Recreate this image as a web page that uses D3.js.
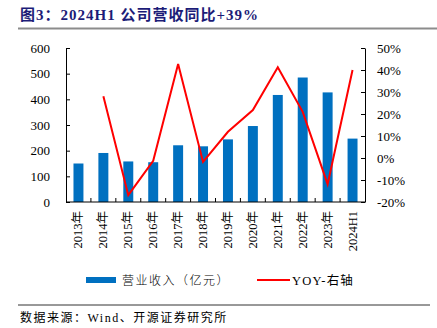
<!DOCTYPE html>
<html>
<head>
<meta charset="utf-8">
<script src="https://cdn.jsdelivr.net/npm/d3@7"></script>
<style>
  body { margin: 0; background: #fff; }
  svg { display: block; }
  text { font-family: "Liberation Serif", "Times New Roman", "Noto Sans CJK SC", serif; }
</style>
</head>
<body>
<svg id="chart"></svg>
<script>
// Data
const categories = ['2013年', '2014年', '2015年', '2016年', '2017年', '2018年',
  '2019年', '2020年', '2021年', '2022年', '2023年', '2024H1'];
const revenue = [150, 191, 158, 155, 221, 217, 244, 296, 417, 485, 427, 247];
const yoy = [null, 28.1, -16.9, -1.3, 42.7, -1.8, 11.9, 21.8, 41.2, 21.0, -11.9, 40.0];
const leftTicks = [0, 100, 200, 300, 400, 500, 600];
const rightTicks = [-20, -10, 0, 10, 20, 30, 40, 50];

const width = 437, height = 328;
const margin = { top: 48, right: 72, bottom: 126, left: 66 };

const svg = d3.select('#chart').attr('width', width).attr('height', height);

// Title
svg.append('text')
  .attr('x', 20).attr('y', 20)
  .attr('font-size', 15).attr('font-weight', 'bold')
  .attr('letter-spacing', 1)
  .attr('fill', '#1c1c78')
  .text('图3：2024H1 公司营收同比+39%');
svg.append('line')
  .attr('x1', 18).attr('x2', 437).attr('y1', 28.5).attr('y2', 28.5)
  .attr('stroke', '#8c8c8c').attr('stroke-width', 2);

const x = d3.scaleBand()
  .domain(categories)
  .range([margin.left, width - margin.right])
  .paddingInner(0.6).paddingOuter(0.3);

const yL = d3.scaleLinear().domain([0, 600]).range([height - margin.bottom, margin.top]);
const yR = d3.scaleLinear().domain([-20, 50]).range([height - margin.bottom, margin.top]);

// Bars
svg.append('g').selectAll('rect')
  .data(revenue)
  .enter().append('rect')
  .attr('x', (d, i) => x(categories[i]))
  .attr('y', d => yL(d))
  .attr('width', x.bandwidth())
  .attr('height', d => yL(0) - yL(d))
  .attr('fill', '#0070c0');

// YOY line
const line = d3.line()
  .defined(d => d !== null)
  .x((d, i) => x(categories[i]) + x.bandwidth() / 2)
  .y(d => yR(d));
svg.append('path')
  .datum(yoy)
  .attr('d', line)
  .attr('fill', 'none')
  .attr('stroke', '#ff0000')
  .attr('stroke-width', 2);

// Axes
const axisStyle = g => {
  g.select('.domain').attr('stroke', '#000');
  g.selectAll('.tick line').attr('stroke', '#000');
  g.selectAll('.tick text').attr('fill', '#000').attr('font-size', 13)
    .attr('font-family', '"Liberation Serif", "Times New Roman", serif');
};

svg.append('g')
  .attr('transform', `translate(${margin.left},0)`)
  .call(d3.axisLeft(yL).tickValues(leftTicks).tickSizeInner(-4).tickSizeOuter(0).tickPadding(16))
  .call(axisStyle);

svg.append('g')
  .attr('transform', `translate(${width - margin.right},0)`)
  .call(d3.axisRight(yR).tickValues(rightTicks).tickFormat(d => d + '%')
    .tickSizeInner(-4).tickSizeOuter(0).tickPadding(12))
  .call(axisStyle);

// Category axis: ticks between bands pointing up
const xAxisG = svg.append('g')
  .attr('transform', `translate(0,${height - margin.bottom})`);
xAxisG.append('line')
  .attr('x1', margin.left).attr('x2', width - margin.right)
  .attr('stroke', '#000');
const bounds = d3.range(1, categories.length).map(i => margin.left + i * x.step() + (x.step() * 0.3 - x.step() * 0.3));
xAxisG.selectAll('.xt').data(bounds).enter().append('line')
  .attr('x1', d => d).attr('x2', d => d).attr('y1', 0).attr('y2', -4)
  .attr('stroke', '#000');
xAxisG.selectAll('.xl').data(categories).enter().append('text')
  .attr('transform', d => `translate(${x(d) + x.bandwidth() / 2 + 4},9) rotate(-90)`)
  .attr('text-anchor', 'end')
  .attr('font-size', 12.5)
  .text(d => d);

// Legend
const legend = svg.append('g');
legend.append('rect')
  .attr('x', 86).attr('y', 277).attr('width', 30).attr('height', 6)
  .attr('fill', '#0070c0');
legend.append('text')
  .attr('x', 122).attr('y', 284.5).attr('font-size', 12)
  .attr('letter-spacing', 1.5)
  .attr('font-family', '"Noto Sans CJK SC", sans-serif')
  .attr('font-weight', 300)
  .text('营业收入（亿元）');
legend.append('line')
  .attr('x1', 257).attr('x2', 290).attr('y1', 280).attr('y2', 280)
  .attr('stroke', '#ff0000').attr('stroke-width', 2);
legend.append('text')
  .attr('x', 292).attr('y', 284.5).attr('font-size', 12.5)
  .attr('letter-spacing', 1.2)
  .text('YOY-右轴');

// Footer
svg.append('line')
  .attr('x1', 18).attr('x2', 430).attr('y1', 305).attr('y2', 305)
  .attr('stroke', '#333').attr('stroke-width', 1);
svg.append('text')
  .attr('x', 20).attr('y', 322).attr('font-size', 12)
  .attr('letter-spacing', 1.5)
  .text('数据来源：Wind、开源证券研究所');
</script>
</body>
</html>
